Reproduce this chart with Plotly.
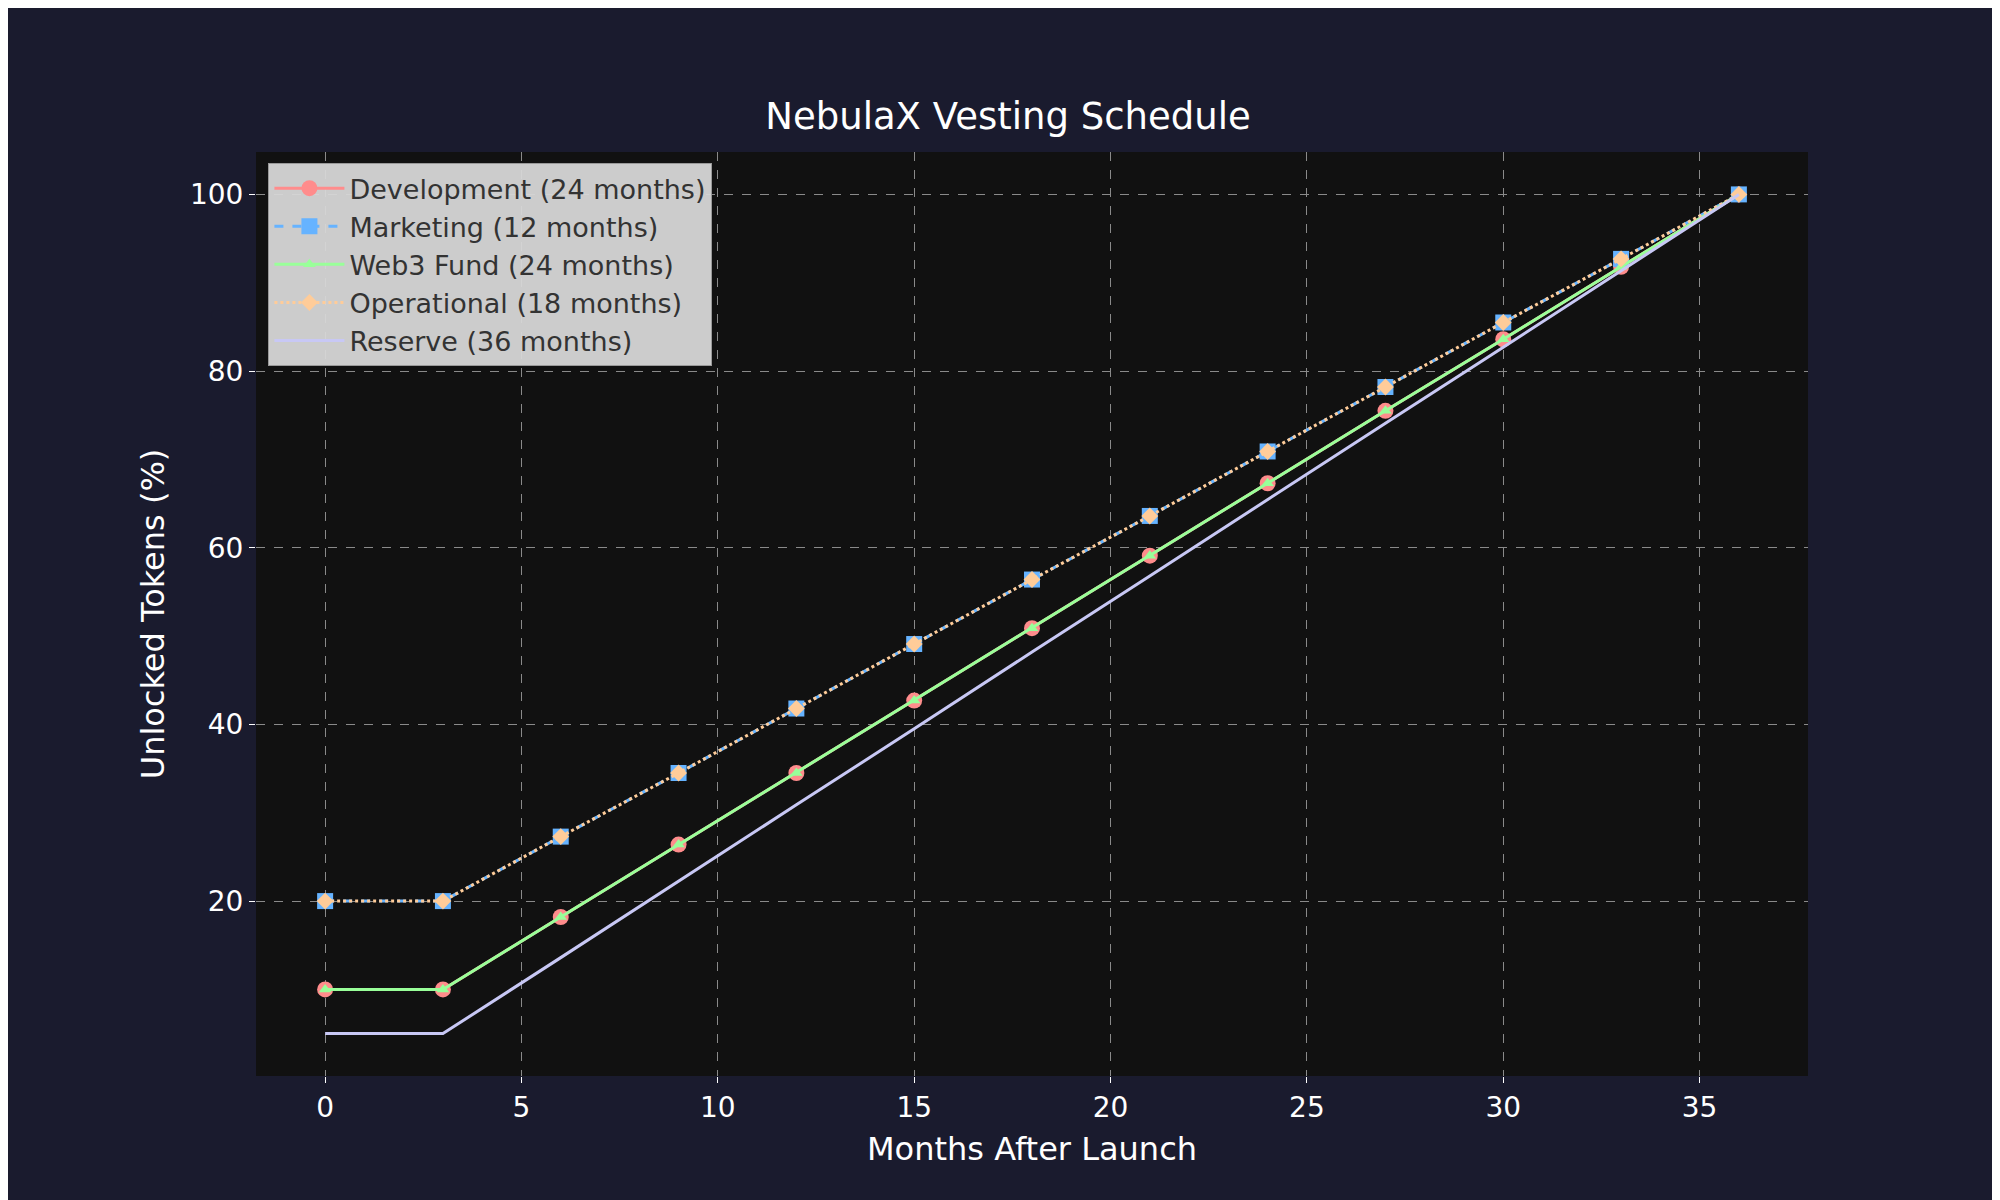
import plotly.graph_objects as go

months = [0, 3, 6, 9, 12, 15, 18, 21, 24, 27, 30, 33, 36]

development = [10, 10, 18.2, 26.4, 34.5, 42.7, 50.9, 59.1, 67.3, 75.5, 83.6, 91.8, 100]
marketing = [20, 20, 27.3, 34.5, 41.8, 49.1, 56.4, 63.6, 70.9, 78.2, 85.5, 92.7, 100]
web3_fund = [10, 10, 18.2, 26.4, 34.5, 42.7, 50.9, 59.1, 67.3, 75.5, 83.6, 91.8, 100]
operational = [20, 20, 27.3, 34.5, 41.8, 49.1, 56.4, 63.6, 70.9, 78.2, 85.5, 92.7, 100]
reserve = [5, 5, 13.6, 22.3, 30.9, 39.5, 48.2, 56.8, 65.5, 74.1, 82.7, 91.4, 100]

# name, values, colour, dash, marker symbol, marker size
series = [
    ("Development (24 months)", development, "#ff8c8c", "solid", "circle", 16),
    ("Marketing (12 months)", marketing, "#66b3ff", "dash", "square", 16),
    ("Web3 Fund (24 months)", web3_fund, "#99ff99", "solid", "triangle-up", 11),
    ("Operational (18 months)", operational, "#ffcc99", "dot", "diamond", 13),
    ("Reserve (36 months)", reserve, "#c8c8f5", "solid", None, 0),
]

fig = go.Figure()
for name, vals, color, dash, sym, size in series:
    fig.add_trace(go.Scatter(
        x=months, y=vals, name=name,
        mode="lines+markers" if sym else "lines",
        line=dict(color=color, width=3, dash=dash),
        marker=dict(symbol=sym, size=size, color=color) if sym else None,
    ))

grid = dict(showgrid=True, gridcolor="#8a8a8a", griddash="dash", gridwidth=1,
            zeroline=False, tickfont=dict(size=28, color="white"),
            ticks="outside", tickcolor="white", ticklen=6, showline=False)

fig.update_layout(
    width=2000, height=1200,
    paper_bgcolor="#1a1b2e", plot_bgcolor="#111111",
    font=dict(family="DejaVu Sans", color="white"),
    title=dict(text="NebulaX Vesting Schedule", x=0.5, xanchor="center",
               y=0.91, yanchor="middle", font=dict(size=37, color="white")),
    xaxis=dict(title=dict(text="Months After Launch", font=dict(size=32)),
               range=[-1.76, 37.76], tickvals=[0, 5, 10, 15, 20, 25, 30, 35], **grid),
    yaxis=dict(title=dict(text="Unlocked Tokens (%)", font=dict(size=32)),
               range=[0.2, 104.8], tickvals=[20, 40, 60, 80, 100], **grid),
    legend=dict(x=0.008, y=0.988, xanchor="left", yanchor="top",
                bgcolor="rgba(215,215,215,0.95)", bordercolor="#999", borderwidth=1,
                itemwidth=70, tracegroupgap=6,
                font=dict(size=27, color="#333333")),
    margin=dict(l=248, r=200, t=144, b=132),
)

fig.write_html("out.html")
